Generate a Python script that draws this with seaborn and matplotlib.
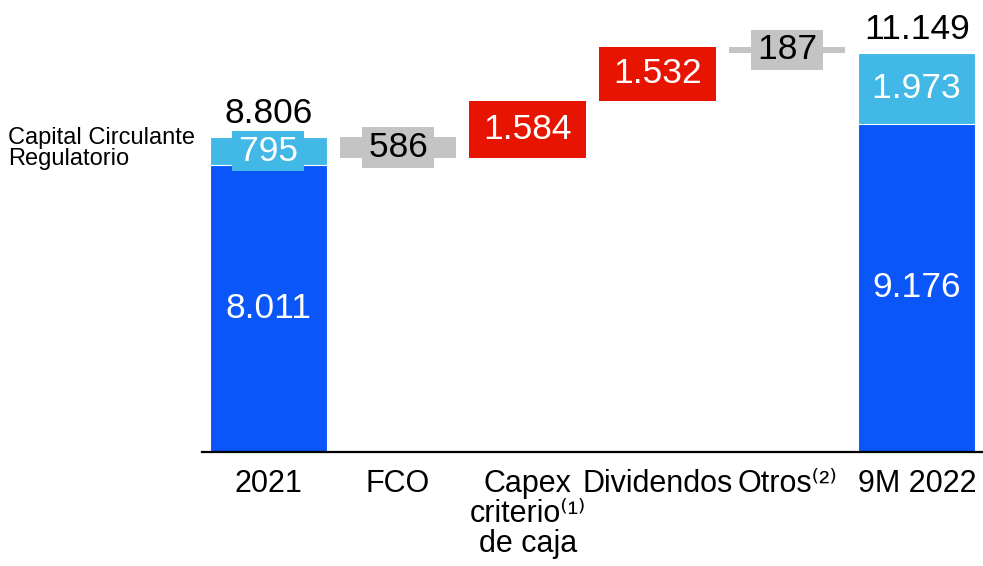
import matplotlib
matplotlib.use('Agg')
import matplotlib.pyplot as plt
import seaborn as sns
import pandas as pd

# Deuda neta (M EUR): bridge from 2021 to 9M 2022
categories = ['2021', 'FCO', 'Capex', 'Dividendos', 'Otros', '9M 2022']
tick_labels = ['2021', 'FCO', 'Capex\ncriterio\u207d\u00b9\u207e\nde caja', 'Dividendos',
               'Otros\u207d\u00b2\u207e', '9M 2022']
total_names = ['2021', '9M 2022']
base_values = [8011, 9176]      # dark blue part
ccr_values = [795, 1973]        # capital circulante regulatorio
step_names = ['FCO', 'Capex', 'Dividendos', 'Otros']
step_values = [-586, 1584, 1532, -187]

DARK = '#0A56F9'
LIGHT = '#41B8E6'
RED = '#E61400'
GREY = '#C4C4C4'
FS = 25.5
HS = '\u200a'  # hair space, widens the label boxes a little


def fmt(v):
    return f"{abs(v):,.0f}".replace(",", ".")


sns.set_theme(style="white")
plt.rcParams['font.family'] = ['Liberation Sans', 'DejaVu Sans']

fig = plt.figure(figsize=(9.83, 5.66), dpi=100)
ax = fig.add_axes([0.2055, 0.2014, 0.7945, 0.7986])

totals = [b + c for b, c in zip(base_values, ccr_values)]
df = pd.DataFrame({'cat': total_names, 'total': totals, 'base': base_values})
sns.barplot(data=df, x='cat', y='total', order=categories, color=LIGHT,
            width=0.9, saturation=1, edgecolor='white', linewidth=0.8, ax=ax)
sns.barplot(data=df, x='cat', y='base', order=categories, color=DARK,
            width=0.9, saturation=1, edgecolor='white', linewidth=0.8, ax=ax)

# floating steps
running = totals[0]
for name, v in zip(step_names, step_values):
    x = categories.index(name)
    bottom = running if v > 0 else running + v
    color = RED if v > 0 else GREY
    ax.bar(x, abs(v), bottom=bottom, width=0.9, color=color, linewidth=0)
    mid = bottom + abs(v) / 2
    if v > 0:
        ax.text(x, mid, fmt(v), ha='center', va='center', fontsize=FS,
                color='white')
    else:
        ax.text(x, mid, HS + fmt(v) + HS, ha='center',
                va='center', fontsize=FS, color='black',
                bbox=dict(boxstyle='square,pad=0.1', fc=GREY, ec='none'))
    running += v

# labels on total bars
for name, b, c in zip(total_names, base_values, ccr_values):
    x = categories.index(name)
    ax.text(x, b / 2, fmt(b), ha='center', va='center', fontsize=FS,
            color='white')
    ax.text(x, b + c / 2, HS + fmt(c) + HS, ha='center',
            va='center', fontsize=FS, color='white',
            bbox=dict(boxstyle='square,pad=0.1', fc=LIGHT, ec='none'))
    ax.text(x, b + c + 400, fmt(b + c), ha='center', va='baseline',
            fontsize=FS, color='black')

ax.set_xlim(-0.51, 5.51)
ax.set_ylim(0, 12636)
ax.set_xlabel('')
ax.set_ylabel('')
ax.set_yticks([])
ax.set_xticks(range(len(categories)))
ax.set_xticklabels(tick_labels, fontsize=22, color='black', linespacing=1.0)
ax.tick_params(axis='x', length=0, pad=12)
for side in ['top', 'left', 'right']:
    ax.spines[side].set_visible(False)
ax.spines['bottom'].set_color('black')
ax.spines['bottom'].set_linewidth(1.6)

fig.text(0.008, 0.737, 'Capital Circulante\nRegulatorio', ha='left',
         va='center', fontsize=17, linespacing=0.95, color='black')

fig.savefig('out.png', dpi=100)
plt.close(fig)
